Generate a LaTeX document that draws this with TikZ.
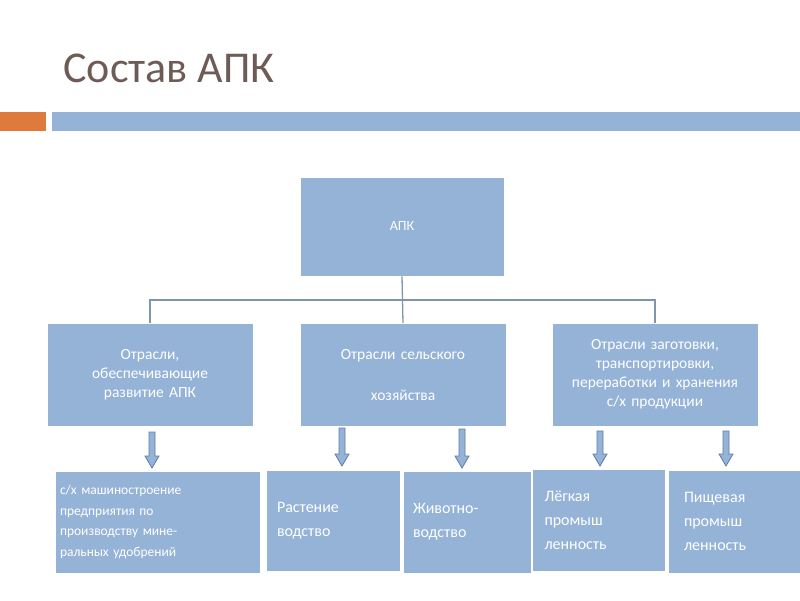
\documentclass[tikz,border=0pt]{standalone}
\usepackage{fontspec}
\setmainfont{Carlito}
\definecolor{boxblue}{HTML}{95B3D7}
\definecolor{lineblue}{HTML}{7F95AD}
\definecolor{arrowedge}{HTML}{5B7EA6}
\definecolor{orng}{HTML}{DE7B3C}
\definecolor{titlec}{HTML}{6E5B56}
\newcommand{\barrow}[3]{\filldraw[fill=boxblue,draw=arrowedge,line width=0.8pt]
 (#1-3,#2) -- (#1+3,#2) -- (#1+3,#3-12) -- (#1+7,#3-12) -- (#1,#3) -- (#1-7,#3-12) -- (#1-3,#3-12) -- cycle;}
\begin{document}
\begin{tikzpicture}[x=1pt,y=-1pt,
 bx/.style={fill=boxblue,draw=white,line width=0.6pt,text=white,align=center,inner sep=2pt},
 conn/.style={draw=lineblue,line width=1.3pt}]
\useasboundingbox (0,0) rectangle (800,600);
\node[anchor=west,text=titlec,font=\fontsize{44}{50}\selectfont] (title) at (60,68) {Состав АПК};
\fill[orng] (0,112) rectangle (46,131);
\fill[boxblue] (52,112) rectangle (800,131);
\path (300,177) rectangle (504,276);
\node[bx,minimum width=204,minimum height=99,font=\fontsize{14}{17}\selectfont] (apk) at (402,226.5) {АПК};
\node[bx,minimum width=206,minimum height=103,text width=190,font=\fontsize{15.5}{19}\selectfont] (l1) at (150,374.5) {Отрасли,\\обеспечивающие\\развитие АПК};
\node[bx,minimum width=206,minimum height=103,text width=190,font=\fontsize{15.5}{19}\selectfont,anchor=north] (l2) at (403,323) {\vspace{22pt}Отрасли сельского\\хозяйства};
\node[bx,minimum width=206,minimum height=103,text width=200,font=\fontsize{15.5}{19}\selectfont] (l3) at (655,374.5) {Отрасли заготовки,\\транспортировки,\\переработки и хранения\\с/х продукции};
\coordinate (hl) at (150,300);
\coordinate (hr) at (655,300);
\draw[conn] (apk.south) -- (l2.north);
\draw[conn] (l1.north) -- (hl) -- (hr) -- (l3.north);
\node[bx,minimum width=205,minimum height=102,text width=195,align=left,font=\fontsize{13.5}{20.5}\selectfont] (b1) at (157.5,522) {с/х машиностроение\\предприятия по\\производству мине-\\ральных удобрений};
\node[bx,minimum width=134,minimum height=101,text width=112,align=left,font=\fontsize{16}{24}\selectfont] (b2) at (333,520.5) {Растение\\водство};
\node[bx,minimum width=128,minimum height=102,text width=108,align=left,font=\fontsize{16}{24}\selectfont] (b3) at (467,522) {Животно-\\водство};
\node[bx,minimum width=133,minimum height=102,text width=108,align=left,font=\fontsize{16}{24}\selectfont] (b4) at (598.5,520) {Лёгкая\\промыш\\ленность};
\node[bx,minimum width=132,minimum height=103,text width=100,align=left,font=\fontsize{16}{24}\selectfont] (b5) at (734,521.5) {Пищевая\\промыш\\ленность};
\barrow{152}{432}{468}
\barrow{342}{428}{466}
\barrow{462}{429}{468}
\barrow{600}{431}{466}
\barrow{726}{431}{466}
\end{tikzpicture}
\end{document}
